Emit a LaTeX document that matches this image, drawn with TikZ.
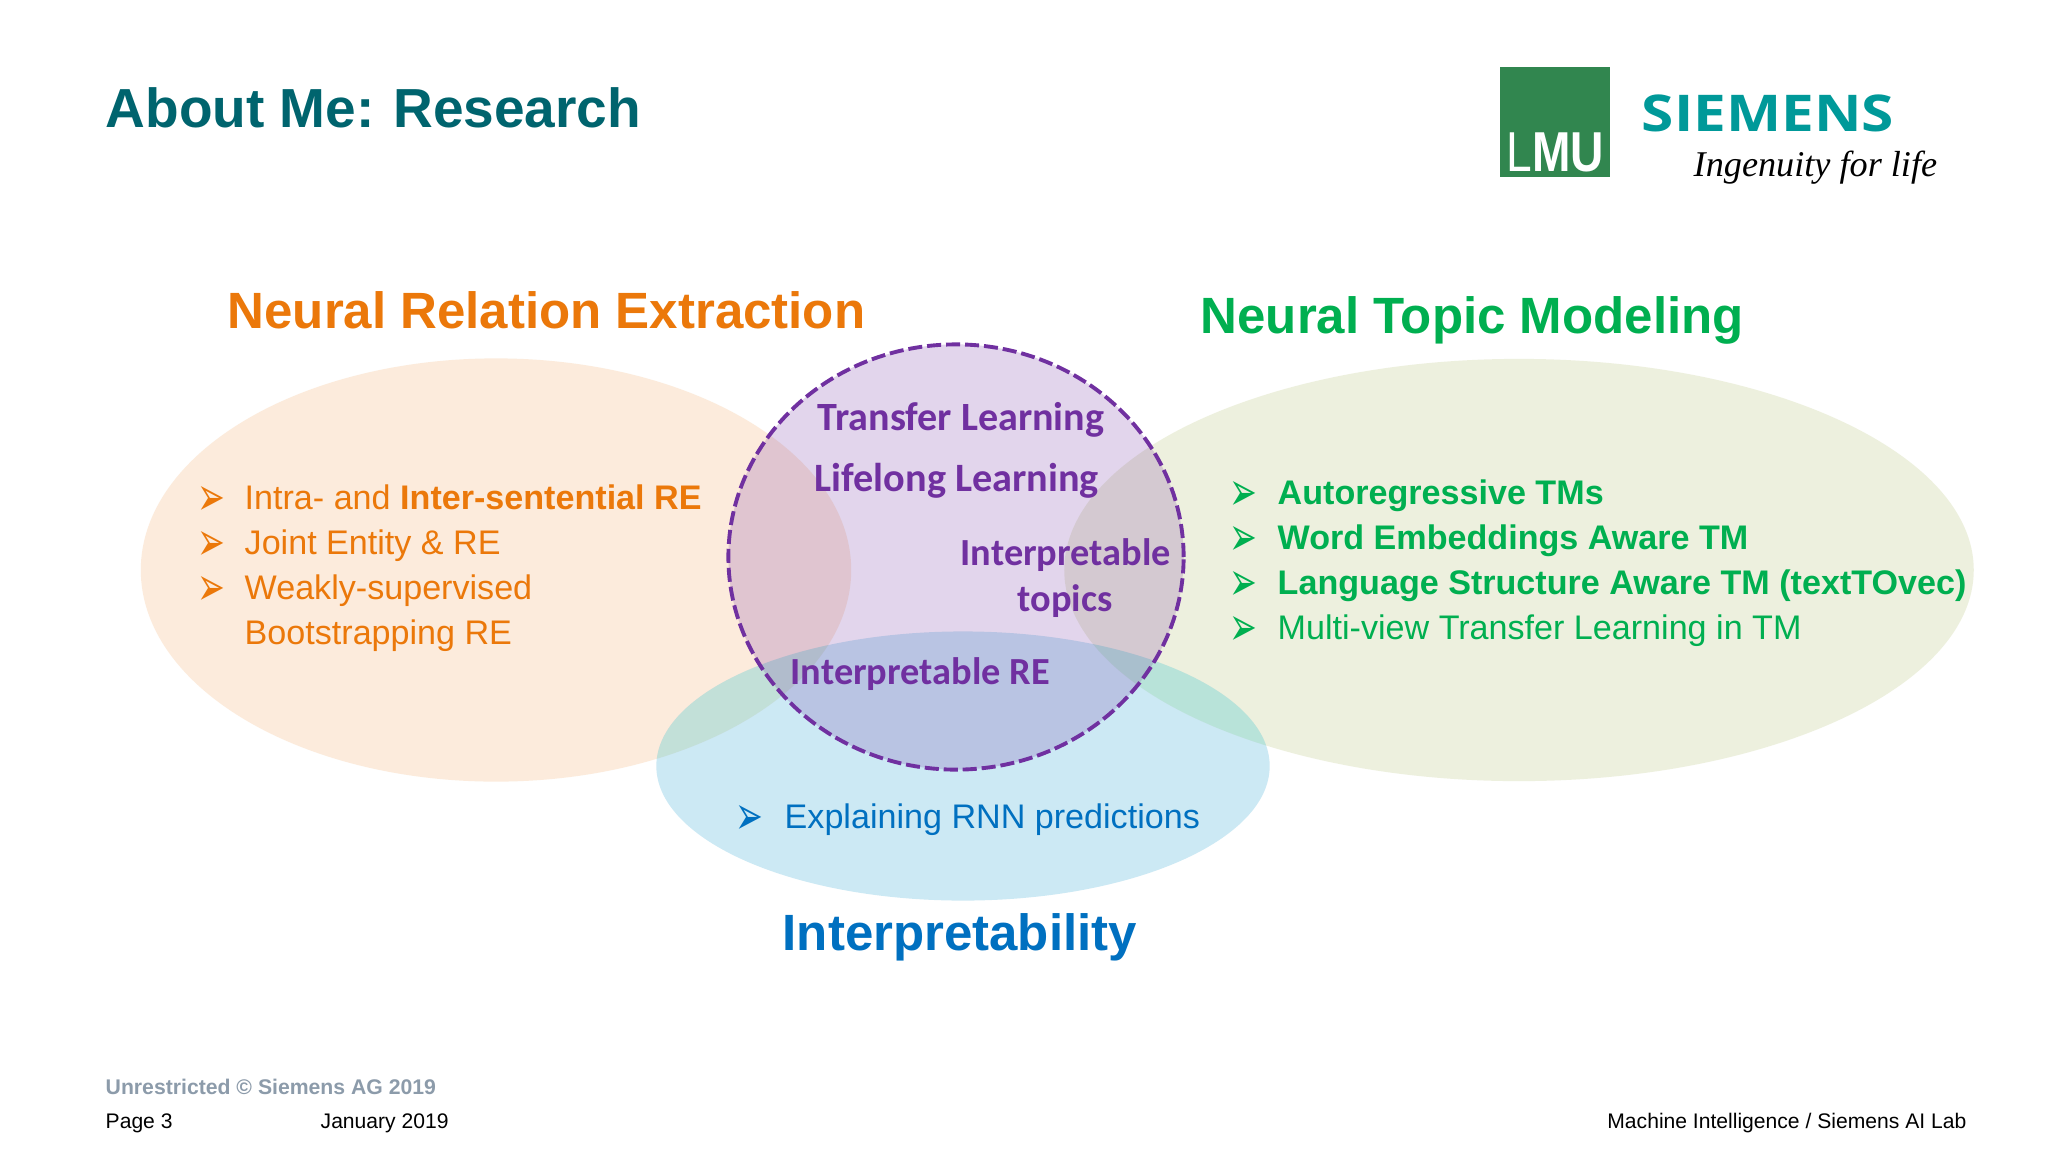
\documentclass[tikz,border=0pt]{standalone}
\usepackage{fontspec}
\setmainfont{Liberation Sans}
\newfontfamily\dingfont{DejaVu Sans}
\newfontfamily\boxfont{Carlito}
\newfontfamily\logofont{Open Sans}
\newfontfamily\handfont{Liberation Serif}
\usetikzlibrary{shapes.geometric}
\definecolor{titleteal}{HTML}{00646E}
\definecolor{logoteal}{HTML}{009999}
\definecolor{logogreen}{HTML}{31864F}
\definecolor{reorange}{HTML}{EB780A}
\definecolor{tmgreen}{HTML}{00AF50}
\definecolor{tmfill}{HTML}{869B1A}
\definecolor{xblue}{HTML}{0070C0}
\definecolor{xfill}{HTML}{0091C8}
\definecolor{xglow}{HTML}{A8FFDC}
\definecolor{boxpurple}{HTML}{7030A0}
\definecolor{footgrey}{HTML}{8C9BAA}

\begin{document}
\begin{tikzpicture}[
        x=0.01cm, y=-0.01cm,
        blob/.style={ellipse, inner sep=0pt, outer sep=0pt},
        heading/.style={anchor=base west, inner sep=0pt, font=\fontsize{14.5}{17}\selectfont\bfseries},
        item/.style={anchor=base west, inner sep=0pt, font=\fontsize{9.7}{12}\selectfont},
        bullet/.style={anchor=base west, inner sep=0pt, transform shape, xscale=1.1, yscale=1.8, font=\fontsize{8.6}{12}\selectfont\dingfont},
        overlap text/.style={inner sep=0pt, text=boxpurple, font=\fontsize{10.9}{12}\selectfont\boxfont\bfseries},
        foot/.style={anchor=base west, inner sep=0pt, font=\fontsize{6}{8}\selectfont}
    ]

        \path[fill=white] (0,0) rectangle (2048,1151);
        \useasboundingbox (0,0) rectangle (2048,1151);

        % Title and logos
        \node[anchor=base west, inner sep=0pt, text=titleteal, font=\fontsize{15.65}{20}\selectfont\bfseries] (title) at (105,127) {About Me:\kern-.5pt{} Research};
        \node[rectangle, fill=logogreen, minimum width=1.10cm, minimum height=1.10cm, inner sep=0pt, outer sep=0pt] (lmu box) at (1555,122) {};
        \node[anchor=base west, inner sep=0pt, text=white, transform shape, xscale=0.82, font=\fontsize{16}{18}\selectfont\bfseries] (lmu) at (1506,171) {{\mdseries L}MU};
        \node[anchor=base west, inner sep=0pt, text=logoteal, transform shape, xscale=1.156, font=\fontsize{14.4}{16}\selectfont\logofont\bfseries] (siemens) at (1641,131) {SIEMENS};
        \node[anchor=base west, inner sep=0pt, font=\fontsize{10.3}{12}\selectfont\handfont\itshape] (ingenuity) at (1693,176) {Ingenuity for life};

        % Overlapping areas
        \node[blob, fill=reorange, fill opacity=0.14, minimum width=7.10cm, minimum height=4.23cm] (re) at (496,570) {};
        \node[blob, fill=tmfill, fill opacity=0.14, minimum width=9.09cm, minimum height=4.22cm] (tm) at (1519,570) {};
        \node[blob, fill=xfill, fill opacity=0.2, minimum width=6.13cm, minimum height=2.69cm] (xai) at (963,766) {};
        \begin{scope}
            \clip (496,570) ellipse [x radius=355, y radius=211.5];
            \fill[fill=xglow, fill opacity=0.2] (963,766) ellipse [x radius=306.5, y radius=134.5];
        \end{scope}
        \begin{scope}
            \clip (1519,570) ellipse [x radius=454.5, y radius=211];
            \fill[fill=xglow, fill opacity=0.2] (963,766) ellipse [x radius=306.5, y radius=134.5];
        \end{scope}
        \node[blob, draw=boxpurple, fill=boxpurple, fill opacity=0.2, draw opacity=1, line width=1.1pt, dash pattern=on 4pt off 1.4pt, minimum width=4.55cm, minimum height=4.25cm] (shared) at (956,557) {};

        % Headings
        \node[heading, text=reorange] (re title) at (227,328) {Neural Relation Extraction};
        \node[heading, text=tmgreen] (tm title) at (1200,333) {Neural Topic Modeling};
        \node[heading, text=xblue] (xai title) at (782,950) {Interpretability};

        % Relation extraction items
        \foreach \name/\base/\label in {1/509/Intra- and \textbf{Inter-sentential RE}, 2/554/Joint Entity \& RE, 3/599/Weakly-supervised}
        {
            \node[bullet, text=reorange] (re mark \name) at (197,\base+6) {➢};
            \node[item, text=reorange] (re item \name) at (244,\base) {\label};
        }
        \node[item, text=reorange] (re item 4) at (244,644) {Bootstrapping RE};

        % Topic modeling items
        \foreach \name/\base/\label in {1/504/\textbf{Autoregressive TMs}, 2/549/\textbf{Word Embeddings Aware TM}, 3/594/\textbf{Language Structure Aware TM (textTOvec)}, 4/639/Multi-view Transfer Learning in TM}
        {
            \node[bullet, text=tmgreen] (tm mark \name) at (1229,\base+6) {➢};
            \node[item, text=tmgreen] (tm item \name) at (1277,\base) {\label};
        }

        % Interpretability item
        \node[bullet, text=xblue] (xai mark) at (735,834) {➢};
        \node[item, text=xblue] (xai item) at (784,828) {Explaining RNN predictions};

        % Shared topics
        \node[overlap text, anchor=base west, font=\fontsize{11.4}{12}\selectfont\boxfont\bfseries] (transfer) at (817,430) {Transfer Learning};
        \node[overlap text, anchor=base west, font=\fontsize{11.45}{12}\selectfont\boxfont\bfseries] (lifelong) at (814,491) {Lifelong Learning};
        \node[overlap text, anchor=base west] (topics a) at (960,565) {Interpretable};
        \node[overlap text, anchor=base] (topics b) at (1065,611) {topics};
        \node[overlap text, anchor=base west] (interp re) at (790,684) {Interpretable RE};

        % Footer
        \node[foot, text=footgrey, font=\fontsize{6.03}{8}\selectfont\bfseries] (rights) at (105,1094) {Unrestricted © Siemens AG 2019};
        \node[foot] (page) at (105,1128) {Page 3};
        \node[foot] (date) at (320,1128) {January 2019};
        \node[foot, anchor=base east] (lab) at (1967,1128) {Machine Intelligence / Siemens AI Lab};

    \end{tikzpicture}
\end{document}
